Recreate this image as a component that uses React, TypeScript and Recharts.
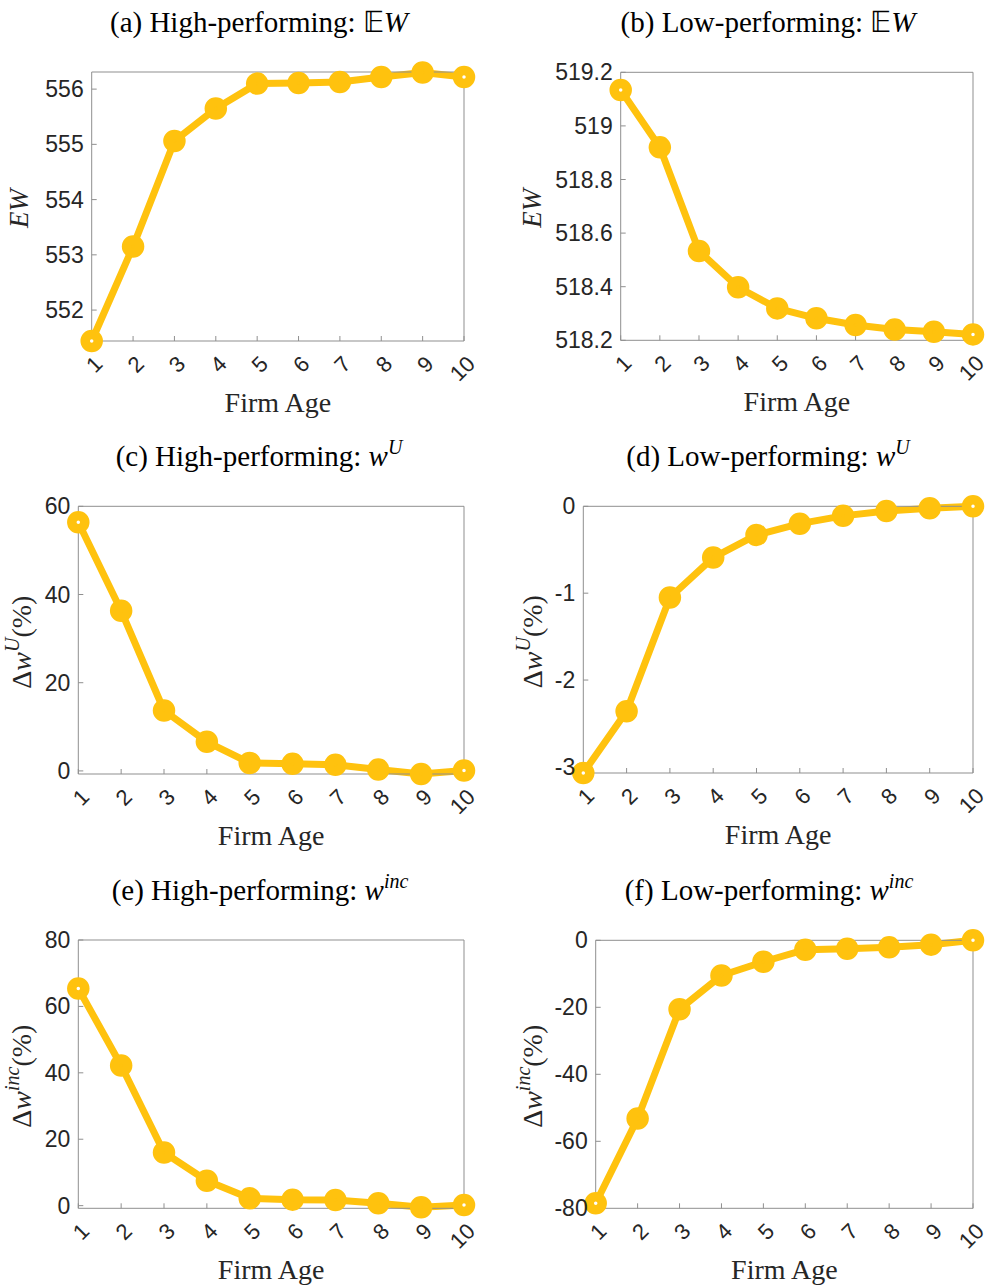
import React from 'react';
import { LineChart, Line, XAxis, YAxis } from 'recharts';

// ---------- data ----------
const firmAge = [1, 2, 3, 4, 5, 6, 7, 8, 9, 10];
const ewHigh = [551.44, 553.15, 555.06, 555.65, 556.1, 556.11, 556.13, 556.22, 556.3, 556.22];
const ewLow = [519.134, 518.92, 518.533, 518.398, 518.319, 518.282, 518.257, 518.24, 518.232, 518.222];
const wuHigh = [56.4, 36.3, 13.7, 6.6, 1.8, 1.6, 1.4, 0.3, -0.7, 0.1];
const wuLow = [-3.07, -2.36, -1.05, -0.59, -0.33, -0.2, -0.11, -0.054, -0.023, 0];
const wincHigh = [65.4, 42.2, 16.0, 7.5, 2.2, 1.8, 1.7, 0.7, -0.5, 0.2];
const wincLow = [-78.5, -53.2, -20.6, -10.5, -6.4, -2.8, -2.5, -2.1, -1.3, 0];

const ewHighTicks = [552, 553, 554, 555, 556];
const ewLowTicks = [518.2, 518.4, 518.6, 518.8, 519, 519.2];
const wuHighTicks = [0, 20, 40, 60];
const wuLowTicks = [-3, -2, -1, 0];
const wincHighTicks = [0, 20, 40, 60, 80];
const wincLowTicks = [-80, -60, -40, -20, 0];

const titlePrefixes = [
  '(a) High-performing: ',
  '(b) Low-performing: ',
  '(c) High-performing: ',
  '(d) Low-performing: ',
  '(e) High-performing: ',
  '(f) Low-performing: ',
];
const xLabel = 'Firm Age';

// ---------- style ----------
const COLOR = '#FFC20E';
const AXIS = '#8f8f8f';
const TEXT = '#262626';
const SANS = "'Liberation Sans', Arial, sans-serif";
const SERIF = "'Liberation Serif', 'Times New Roman', serif";

type Box = { l: number; r: number; t: number; b: number };
type Panel = {
  chartX: number;
  chartY: number;
  h: number;
  box: Box;
  values: number[];
  domain: [number, number];
  ticks: number[];
  titleX: number;
  kind: 'ew' | 'U' | 'inc';
  ylabX: number;
};

const panels: Panel[] = [
  { chartX: 0, chartY: 0, h: 430, box: { l: 91.7, r: 464, t: 72, b: 341 }, values: ewHigh, domain: [551.44, 556.31], ticks: ewHighTicks, titleX: 259, kind: 'ew', ylabX: 28 },
  { chartX: 495, chartY: 0, h: 430, box: { l: 620.7, r: 973, t: 72.3, b: 340.3 }, values: ewLow, domain: [518.2, 519.2], ticks: ewLowTicks, titleX: 768, kind: 'ew', ylabX: 541 },
  { chartX: 0, chartY: 430, h: 430, box: { l: 78.3, r: 464, t: 506.3, b: 774 }, values: wuHigh, domain: [-0.7, 60], ticks: wuHighTicks, titleX: 259, kind: 'U', ylabX: 31 },
  { chartX: 495, chartY: 430, h: 430, box: { l: 583.3, r: 973, t: 506.3, b: 773 }, values: wuLow, domain: [-3.07, 0], ticks: wuLowTicks, titleX: 768, kind: 'U', ylabX: 542 },
  { chartX: 0, chartY: 860, h: 428, box: { l: 78.3, r: 464, t: 940, b: 1208.3 }, values: wincHigh, domain: [-0.8, 80], ticks: wincHighTicks, titleX: 260, kind: 'inc', ylabX: 31 },
  { chartX: 495, chartY: 860, h: 428, box: { l: 595.7, r: 973, t: 940.3, b: 1208.3 }, values: wincLow, domain: [-80, 0], ticks: wincLowTicks, titleX: 769, kind: 'inc', ylabX: 542 },
];

const CHART_W = 495;

function PanelChart({ p, idx }: { p: Panel; idx: number }) {
  const data = firmAge.map((a, i) => ({ age: a, v: p.values[i] }));
  const margin = {
    top: p.box.t - p.chartY,
    left: p.box.l - p.chartX,
    right: p.chartX + CHART_W - p.box.r,
    bottom: p.chartY + p.h - p.box.b,
  };
  const plotBottom = p.box.b - p.chartY;
  const plotLeft = p.box.l - p.chartX;
  const n = data.length;

  const xTick = (props: any) => {
    const x = props.x + 7;
    const y = plotBottom + 19;
    return (
      <text
        x={x}
        y={y}
        transform={`rotate(-45 ${x} ${y})`}
        textAnchor="end"
        dominantBaseline="central"
        fontFamily={SANS}
        fontSize={22}
        fill={TEXT}
      >
        {props.payload.value}
      </text>
    );
  };
  const yTick = (props: any) => (
    <text
      x={plotLeft - 8}
      y={props.y}
      textAnchor="end"
      dominantBaseline="central"
      fontFamily={SANS}
      fontSize={23}
      fill={TEXT}
    >
      {props.payload.value}
    </text>
  );

  const renderDot = (props: any) => {
    const { cx, cy, index } = props;
    const end = index === 0 || index === n - 1;
    return (
      <circle
        key={`d${idx}-${index}`}
        cx={cx}
        cy={cy}
        r={6.5}
        fill={end ? '#ffffff' : COLOR}
        stroke={COLOR}
        strokeWidth={9.5}
      />
    );
  };

  return (
    <div style={{ position: 'absolute', left: p.chartX, top: p.chartY }}>
      <LineChart width={CHART_W} height={p.h} data={data} margin={margin}>
        <XAxis
          xAxisId="b"
          dataKey="age"
          type="number"
          domain={[1, 10]}
          ticks={firmAge}
          orientation="bottom"
          mirror
          stroke={AXIS}
          tickSize={5}
          tick={xTick}
          interval={0}
        />
        <XAxis
          xAxisId="t"
          dataKey="age"
          type="number"
          domain={[1, 10]}
          ticks={firmAge}
          orientation="top"
          mirror
          stroke={AXIS}
          tickSize={5}
          tick={false}
          interval={0}
        />
        <YAxis
          yAxisId="l"
          type="number"
          domain={p.domain}
          ticks={p.ticks}
          orientation="left"
          mirror
          stroke={AXIS}
          tickSize={5}
          tick={yTick}
          interval={0}
        />
        <YAxis
          yAxisId="r"
          type="number"
          domain={p.domain}
          ticks={p.ticks}
          orientation="right"
          mirror
          stroke={AXIS}
          tickSize={5}
          tick={false}
          interval={0}
        />
        <Line
          xAxisId="b"
          yAxisId="l"
          dataKey="v"
          stroke={COLOR}
          strokeWidth={7}
          strokeLinejoin="round"
          dot={renderDot}
          activeDot={false}
          isAnimationActive={false}
        />
      </LineChart>
    </div>
  );
}

function TitleSymbol({ kind }: { kind: Panel['kind'] }) {
  if (kind === 'ew') {
    return (
      <>
        <tspan>𝔼</tspan>
        <tspan fontStyle="italic">W</tspan>
      </>
    );
  }
  return (
    <>
      <tspan fontStyle="italic">w</tspan>
      <tspan fontStyle="italic" fontSize={20} dy={-12}>
        {kind === 'U' ? 'U' : 'inc'}
      </tspan>
    </>
  );
}

function YLabel({ p }: { p: Panel }) {
  const cy = (p.box.t + p.box.b) / 2 + 2;
  const x = p.ylabX;
  if (p.kind === 'ew') {
    return (
      <text
        x={x}
        y={cy}
        transform={`rotate(-90 ${x} ${cy})`}
        textAnchor="middle"
        fontFamily={SERIF}
        fontSize={27}
        fontStyle="italic"
        fill={TEXT}
      >
        EW
      </text>
    );
  }
  return (
    <text
      x={x}
      y={cy}
      transform={`rotate(-90 ${x} ${cy})`}
      textAnchor="middle"
      fontFamily={SERIF}
      fontSize={28}
      fill={TEXT}
    >
      <tspan>Δ</tspan>
      <tspan fontStyle="italic">w</tspan>
      <tspan fontStyle="italic" fontSize={20} dy={-12}>
        {p.kind === 'U' ? 'U' : 'inc'}
      </tspan>
      <tspan dy={12}>(%)</tspan>
    </text>
  );
}

export default function App() {
  return (
    <div
      style={{
        position: 'absolute',
        left: 0,
        top: 0,
        width: 990,
        height: 1288,
        background: '#ffffff',
        overflow: 'hidden',
      }}
    >
      {panels.map((p, i) => (
        <PanelChart key={i} p={p} idx={i} />
      ))}
      <svg
        width={990}
        height={1288}
        style={{ position: 'absolute', left: 0, top: 0, pointerEvents: 'none' }}
      >
        {panels.map((p, i) => (
          <g key={i}>
            <text
              x={p.titleX}
              y={p.box.t - 40}
              textAnchor="middle"
              fontFamily={SERIF}
              fontSize={29}
              fill="#000"
            >
              <tspan>{titlePrefixes[i]}</tspan>
              <TitleSymbol kind={p.kind} />
            </text>
            <YLabel p={p} />
            <text
              x={(p.box.l + p.box.r) / 2}
              y={p.box.b + 71}
              textAnchor="middle"
              fontFamily={SERIF}
              fontSize={28}
              fill={TEXT}
            >
              {xLabel}
            </text>
          </g>
        ))}
      </svg>
    </div>
  );
}
